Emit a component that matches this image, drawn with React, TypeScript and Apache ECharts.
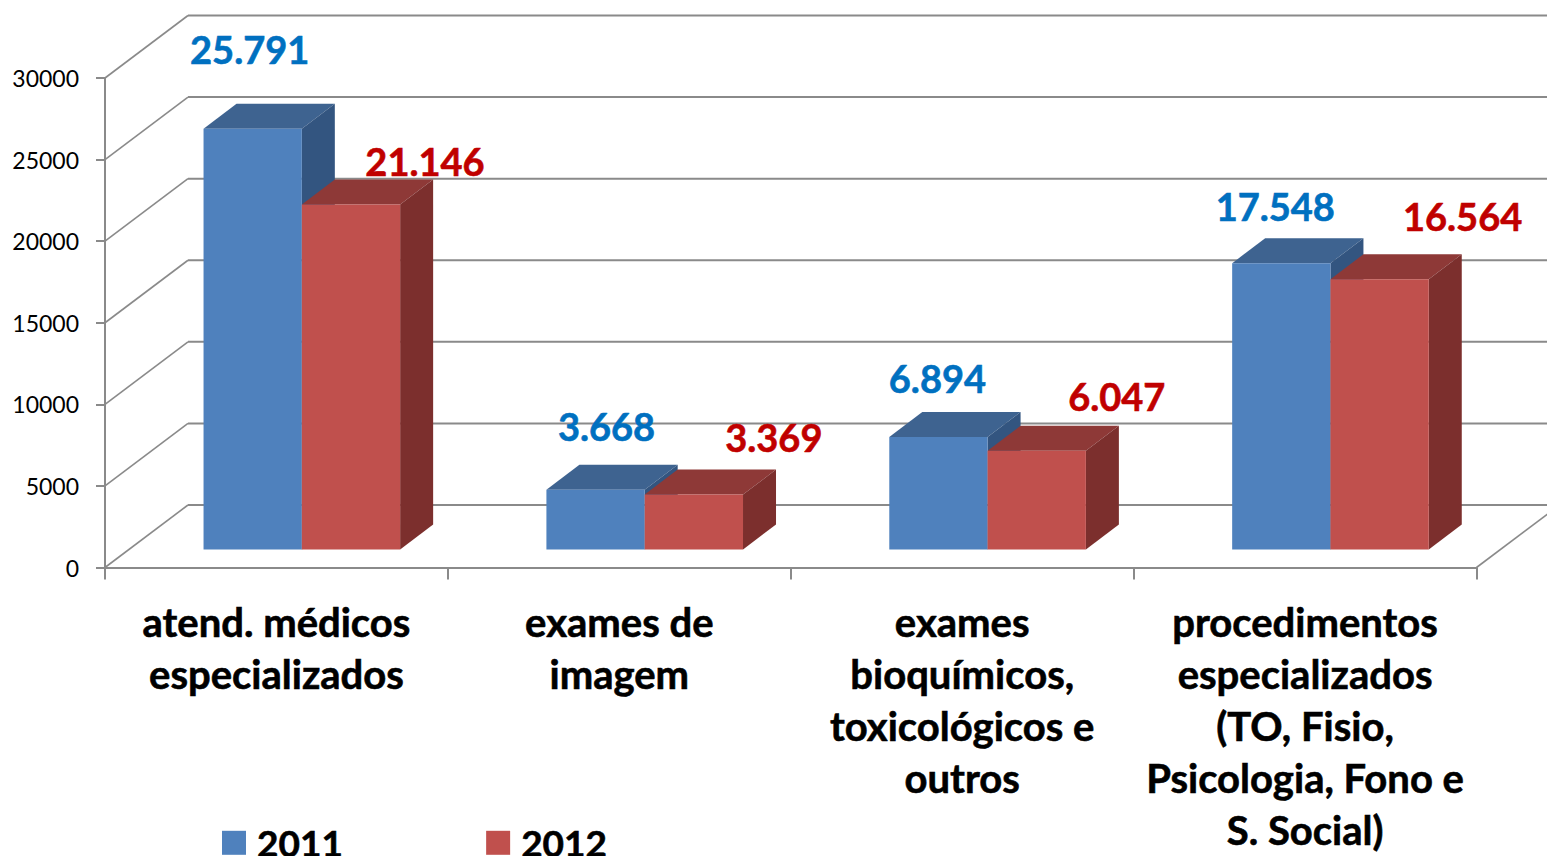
import React, { useEffect, useRef } from "react";
import * as echarts from "echarts";

const categories = [
  "atend. médicos\nespecializados",
  "exames de\nimagem",
  "exames\nbioquímicos,\ntoxicológicos e\noutros",
  "procedimentos\nespecializados\n(TO, Fisio,\nPsicologia, Fono e\nS. Social)",
];
const values2011 = [25791, 3668, 6894, 17548];
const values2012 = [21146, 3369, 6047, 16564];
const labels2011 = ["25.791", "3.668", "6.894", "17.548"];
const labels2012 = ["21.146", "3.369", "6.047", "16.564"];
const yTicks = [0, 5000, 10000, 15000, 20000, 25000, 30000];

// Pixel nudges of the data labels from the centre of each bar's top edge
const nudge2011 = [[-3, -80], [11, -64], [-1, -59], [-6, -57]];
const nudge2012 = [[74, -43], [80, -58], [80, -55], [83, -63]];

const FONT = "Lato, Carlito, Calibri, sans-serif";
const GRID_COLOR = "#8a8a8a";
const WALL_DX = 83;
const WALL_DY = -62.5;
const BAR_SHIFT_X = 25.4;
const BAR_SHIFT_Y = -18;
const BAR_DX = 33;
const BAR_DY = -25;
const BAR_BAND = 0.2867;

function wallRender(params: any, api: any) {
  const cs = params.coordSys;
  const y = api.coord([0, api.value(1)])[1];
  const left = cs.x;
  const right = cs.x + cs.width;
  const children: any[] = [
    {
      type: "line",
      shape: { x1: left, y1: y, x2: left + WALL_DX, y2: y + WALL_DY },
      style: { stroke: GRID_COLOR, lineWidth: 1.6 },
    },
    {
      type: "line",
      shape: { x1: left + WALL_DX, y1: y + WALL_DY, x2: right + WALL_DX, y2: y + WALL_DY },
      style: { stroke: GRID_COLOR, lineWidth: 2 },
    },
  ];
  if (api.value(1) === 0) {
    children.push({
      type: "line",
      shape: { x1: right, y1: y, x2: right + WALL_DX, y2: y + WALL_DY },
      style: { stroke: GRID_COLOR, lineWidth: 1.6 },
    });
  }
  return { type: "group", children };
}

function barRender(side: 0 | 1, colors: string[], labels: string[], nudges: number[][], labelColor: string) {
  return (params: any, api: any) => {
    const idx = api.value(0);
    const top = api.coord([idx, api.value(1)]);
    const base = api.coord([idx, 0]);
    const w = api.size([1, 0])[0] * BAR_BAND;
    const x0 = top[0] + BAR_SHIFT_X + (side === 0 ? -w : 0);
    const x1 = x0 + w;
    const yTop = top[1] + BAR_SHIFT_Y;
    const yBase = base[1] + BAR_SHIFT_Y;
    const n = nudges[params.dataIndex];
    return {
      type: "group",
      children: [
        {
          type: "polygon",
          shape: { points: [[x0, yTop], [x1, yTop], [x1 + BAR_DX, yTop + BAR_DY], [x0 + BAR_DX, yTop + BAR_DY]] },
          style: { fill: colors[1] },
        },
        {
          type: "polygon",
          shape: { points: [[x1, yTop], [x1 + BAR_DX, yTop + BAR_DY], [x1 + BAR_DX, yBase + BAR_DY], [x1, yBase]] },
          style: { fill: colors[2] },
        },
        {
          type: "polygon",
          shape: { points: [[x0, yTop], [x1, yTop], [x1, yBase], [x0, yBase]] },
          style: { fill: colors[0] },
        },
        {
          type: "text",
          z2: 100,
          style: {
            text: labels[params.dataIndex],
            x: (x0 + x1) / 2 + n[0],
            y: yTop + n[1],
            textAlign: "center",
            textVerticalAlign: "middle",
            fontFamily: FONT,
            fontWeight: "bold",
            fontSize: 38,
            fill: labelColor,
            stroke: labelColor,
            lineWidth: 0.6,
          },
        },
      ],
    };
  };
}

export default function App() {
  const ref = useRef<HTMLDivElement>(null);
  useEffect(() => {
    if (!ref.current) return;
    const chart = echarts.init(ref.current, undefined, { renderer: "svg" });
    chart.setOption({
      animation: false,
      backgroundColor: "#ffffff",
      grid: { left: 105, top: 78, width: 1371.5, height: 489.5, outerBoundsMode: "none" },
      legend: {
        data: ["2011", "2012"],
        left: 222,
        top: 824,
        padding: 0,
        icon: "rect",
        itemWidth: 24,
        itemHeight: 24,
        itemGap: 143,
        textStyle: {
          fontFamily: FONT,
          fontWeight: "bold",
          fontSize: 37,
          lineHeight: 28,
          color: "#000",
          padding: [0, 0, 4, 6],
          textBorderColor: "#000",
          textBorderWidth: 0.6,
        },
      },
      xAxis: {
        type: "category",
        data: categories,
        z: 10,
        axisLine: { show: true, onZero: false, lineStyle: { color: GRID_COLOR, width: 2 } },
        axisTick: { show: true, length: 12, lineStyle: { color: GRID_COLOR, width: 2 } },
        axisLabel: {
          interval: 0,
          margin: 28,
          fontFamily: FONT,
          fontWeight: "bold",
          fontSize: 40,
          lineHeight: 52,
          color: "#000",
          align: "center",
          verticalAlign: "top",
          textBorderColor: "#000",
          textBorderWidth: 0.6,
        },
      },
      yAxis: {
        type: "value",
        min: 0,
        max: 30000,
        interval: 5000,
        z: 10,
        splitLine: { show: false },
        axisLine: { show: true, lineStyle: { color: GRID_COLOR, width: 2 } },
        axisTick: { show: true, length: 9, lineStyle: { color: GRID_COLOR, width: 2 } },
        axisLabel: {
          margin: 26,
          fontFamily: FONT,
          fontSize: 23,
          color: "#000",
          padding: [6, 0, 0, 0],
          formatter: (v: number) => String(v),
        },
      },
      series: [
        {
          type: "custom",
          name: "wall",
          silent: true,
          z: 1,
          renderItem: wallRender,
          data: yTicks.map((v) => [0, v]),
          encode: { x: 0, y: 1 },
        },
        {
          type: "custom",
          name: "2011",
          z: 2,
          itemStyle: { color: "#4f81bd" },
          renderItem: barRender(0, ["#4f81bd", "#3e6390", "#335580"], labels2011, nudge2011, "#0070c0"),
          data: values2011.map((v, i) => [i, v]),
          encode: { x: 0, y: 1 },
        },
        {
          type: "custom",
          name: "2012",
          z: 2,
          itemStyle: { color: "#c0504d" },
          renderItem: barRender(1, ["#c0504d", "#8e3937", "#7c2f2d"], labels2012, nudge2012, "#c00000"),
          data: values2012.map((v, i) => [i, v]),
          encode: { x: 0, y: 1 },
        },
      ],
    });
    return () => chart.dispose();
  }, []);
  return (
    <div
      ref={ref}
      style={{ position: "fixed", left: 0, top: 0, width: 1547, height: 856, background: "#fff" }}
    />
  );
}
